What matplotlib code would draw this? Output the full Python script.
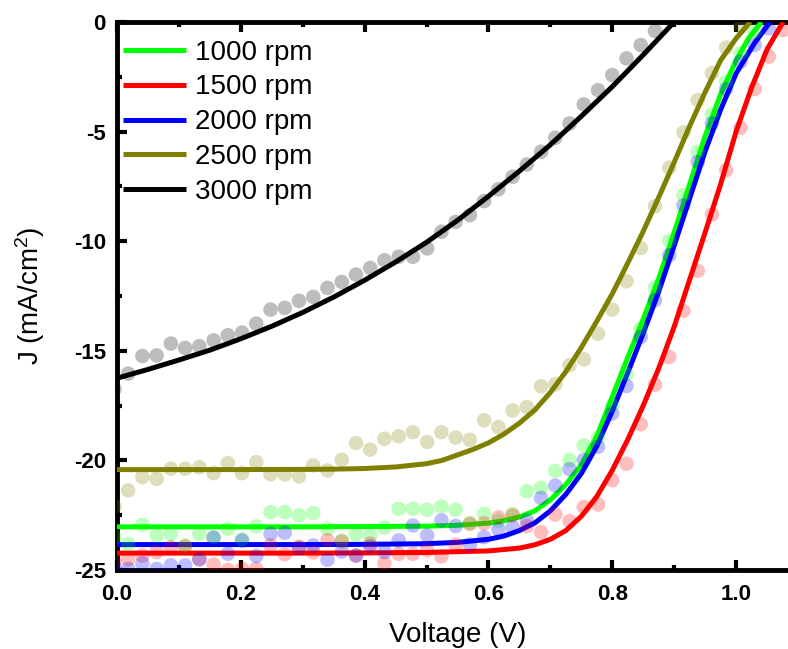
import matplotlib
matplotlib.use("Agg")
import matplotlib.pyplot as plt
import numpy as np
from matplotlib.ticker import MultipleLocator, FormatStrFormatter

plt.rcParams['font.family'] = ['Liberation Sans', 'DejaVu Sans']
plt.rcParams['mathtext.fontset'] = 'custom'
plt.rcParams['mathtext.rm'] = 'Liberation Sans'
plt.rcParams['mathtext.it'] = 'Liberation Sans:italic'
plt.rcParams['axes.unicode_minus'] = False

# ---------------- data ----------------
labels = ["1000 rpm", "1500 rpm", "2000 rpm", "2500 rpm", "3000 rpm"]
colors = ["#00ff00", "#ff0000", "#0000ff", "#808000", "#000000"]

# measured voltages (shared grid)
volt = [-0.004, 0.018, 0.041, 0.064, 0.087, 0.110, 0.133, 0.156, 0.179, 0.202,
        0.225, 0.248, 0.271, 0.294, 0.317, 0.340, 0.363, 0.386, 0.409, 0.432,
        0.455, 0.478, 0.501, 0.524, 0.547, 0.570, 0.593, 0.616, 0.639, 0.662,
        0.685, 0.708, 0.731, 0.754, 0.777, 0.800, 0.823, 0.846, 0.869, 0.892,
        0.915, 0.938, 0.961, 0.984, 1.007, 1.030, 1.053, 1.076]

# measured current densities (mA/cm2)
j_1000 = [-23.5, -23.81, -22.94, -23.42, -23.35, -23.88, -23.35, -23.50, -23.12, -23.6,
          -23.01, -22.36, -22.36, -22.51, -22.40, -23.12, -23.65, -23.38, -23.42, -23.07,
          -22.21, -22.21, -22.25, -22.10, -22.25, -22.85, -22.43, -22.75, -22.45, -21.41,
          -21.25, -20.48, -19.98, -19.32, -18.97, -17.49, -16.04, -13.99, -12.11, -9.98,
          -7.90, -5.92, -4.22, -2.72, -1.43, -0.44]
j_1500 = [-24.6, -24.51, -24.34, -24.18, -23.96, -23.93, -24.5, -24.75, -25.0, -24.95,
          -24.95, -23.88, -24.28, -23.94, -24.2, -23.64, -23.70, -24.34, -23.80, -24.69,
          -24.26, -24.26, -24.1, -24.38, -23.84, -22.90, -22.87, -22.60, -22.51, -23.0,
          -23.27, -22.47, -22.77, -22.13, -22.01, -20.90, -20.15, -18.35, -16.55, -15.28,
          -13.18, -11.35, -8.78, -6.76, -4.83, -3.06, -1.58, -0.37]
j_2000 = [-24.87, -24.95, -24.69, -24.95, -24.79, -24.79, -24.51, -23.53, -24.26, -23.66,
          -24.36, -23.35, -23.30, -23.99, -23.88, -24.53, -24.16, -24.34, -23.93, -24.18,
          -23.65, -22.97, -23.42, -22.74, -22.99, -23.84, -23.50, -23.14, -23.05, -22.74,
          -21.71, -21.15, -20.40, -19.98, -19.38, -17.86, -16.60, -14.37, -12.69, -10.64,
          -8.36, -6.38, -4.63, -3.06, -1.81, -1.05, -0.29]
j_2500 = [-22.1, -21.37, -20.76, -20.84, -20.38, -20.38, -20.31, -20.58, -20.12, -20.58,
          -20.08, -20.64, -20.64, -20.73, -20.23, -20.46, -19.97, -19.21, -19.51, -19.01,
          -18.90, -18.71, -19.16, -18.71, -18.96, -19.06, -18.17, -18.48, -17.72, -17.57,
          -16.62, -16.53, -15.66, -15.39, -14.22, -13.12, -11.83, -10.31, -8.40, -6.65,
          -5.04, -3.56, -2.34, -1.17, -0.21]
j_3000 = [-16.75, -16.04, -15.24, -15.21, -14.67, -14.87, -14.79, -14.52, -14.29, -14.17,
          -13.76, -13.12, -13.04, -12.72, -12.54, -12.13, -11.86, -11.52, -11.22, -10.87,
          -10.71, -10.71, -10.33, -9.57, -9.12, -8.81, -8.17, -7.63, -7.06, -6.50,
          -5.92, -5.28, -4.63, -3.76, -3.11, -2.42, -1.66, -1.05, -0.41]

# fitted curves
fit_v_1000 = [0, 0.1, 0.2, 0.3, 0.4, 0.5, 0.55, 0.6, 0.625, 0.65, 0.675, 0.7, 0.725, 0.75,
              0.775, 0.8, 0.825, 0.85, 0.875, 0.9, 0.925, 0.95, 0.975, 1.0, 1.02, 1.041]
fit_j_1000 = [-23.03, -23.03, -23.03, -23.03, -23.02, -23.0, -22.96, -22.86, -22.75, -22.58,
              -22.3, -21.8, -21.1, -20.2, -18.9, -17.1, -15.3, -13.55, -11.7, -9.6,
              -7.4, -5.2, -3.3, -1.75, -0.75, 0.0]
fit_v_1500 = [0, 0.1, 0.2, 0.3, 0.4, 0.5, 0.6, 0.65, 0.675, 0.7, 0.725, 0.75, 0.775, 0.8,
              0.825, 0.85, 0.875, 0.9, 0.925, 0.95, 0.975, 1.0, 1.025, 1.05, 1.076]
fit_j_1500 = [-24.23, -24.23, -24.23, -24.23, -24.22, -24.2, -24.13, -24.0, -23.85, -23.6,
              -23.2, -22.55, -21.65, -20.45, -19.05, -17.5, -15.8, -13.9, -11.75, -9.6,
              -7.4, -5.0, -3.0, -1.25, 0.0]
fit_v_2000 = [0, 0.1, 0.2, 0.3, 0.4, 0.5, 0.55, 0.6, 0.625, 0.65, 0.675, 0.7, 0.725, 0.75,
              0.775, 0.8, 0.825, 0.85, 0.875, 0.9, 0.925, 0.95, 0.975, 1.0, 1.03, 1.055]
fit_j_2000 = [-23.84, -23.84, -23.84, -23.84, -23.83, -23.8, -23.74, -23.6, -23.45, -23.2,
              -22.85, -22.3, -21.55, -20.6, -19.35, -17.75, -16.0, -14.2, -12.3, -10.2,
              -8.05, -5.9, -4.0, -2.35, -0.95, 0.0]
fit_v_2500 = [0, 0.1, 0.2, 0.3, 0.35, 0.4, 0.45, 0.5, 0.525, 0.55, 0.575, 0.6, 0.625, 0.65,
              0.675, 0.7, 0.725, 0.75, 0.775, 0.8, 0.825, 0.85, 0.875, 0.9, 0.925, 0.95,
              0.975, 1.0, 1.023]
fit_j_2500 = [-20.42, -20.42, -20.42, -20.41, -20.4, -20.37, -20.3, -20.15, -20.0, -19.75,
              -19.5, -19.2, -18.8, -18.3, -17.7, -16.9, -15.95, -14.85, -13.65, -12.4,
              -11.0, -9.55, -8.0, -6.4, -4.75, -3.2, -1.75, -0.75, 0.0]
fit_v_3000 = [0, 0.05, 0.1, 0.15, 0.2, 0.25, 0.3, 0.35, 0.4, 0.45, 0.5, 0.55, 0.6, 0.65,
              0.7, 0.75, 0.8, 0.85, 0.9]
fit_j_3000 = [-16.25, -15.85, -15.42, -14.97, -14.45, -13.88, -13.25, -12.55, -11.78, -10.95,
              -10.05, -9.05, -7.95, -6.8, -5.6, -4.3, -2.95, -1.5, 0.0]

x_ticks = [0.0, 0.2, 0.4, 0.6, 0.8, 1.0]
y_ticks = [0, -5, -10, -15, -20, -25]

# ---------------- plot ----------------
fig = plt.figure(figsize=(7.88, 6.49), dpi=100)
ax = fig.add_axes([117 / 788, 79 / 649, 681 / 788, 548 / 649])

meas = [j_1000, j_1500, j_2000, j_2500, j_3000]
fits = [(fit_v_1000, fit_j_1000), (fit_v_1500, fit_j_1500), (fit_v_2000, fit_j_2000),
        (fit_v_2500, fit_j_2500), (fit_v_3000, fit_j_3000)]

handles = []
for lab, col, jm, (fv, fj) in zip(labels, colors, meas, fits):
    h, = ax.plot(fv, fj, color=col, lw=3.6, label=lab, zorder=3, solid_capstyle='butt')
    handles.append(h)
    ax.scatter(volt[:len(jm)], jm, s=110, color=col, alpha=0.26, edgecolors='none',
               zorder=4, clip_on=True)

ax.set_xlim(0, 1.1)
ax.set_ylim(-25, 0)
ax.set_xticks(x_ticks)
ax.set_yticks(y_ticks)
ax.xaxis.set_minor_locator(MultipleLocator(0.1))
ax.yaxis.set_minor_locator(MultipleLocator(2.5))
ax.xaxis.set_major_formatter(FormatStrFormatter('%.1f'))
ax.yaxis.set_major_formatter(FormatStrFormatter('%d'))

for sp in ax.spines.values():
    sp.set_linewidth(3.5)

ax.tick_params(which='both', direction='in', top=True, right=True)
ax.tick_params(which='major', length=7, width=3, pad=8, labelsize=16)
ax.tick_params(axis='x', which='major', pad=10)
ax.tick_params(which='minor', length=3.5, width=3)
for t in ax.get_xticklabels() + ax.get_yticklabels():
    t.set_fontweight('bold')

ax.set_xlabel("Voltage (V)", fontsize=20, labelpad=12)
ax.set_ylabel("J (mA/cm$^2$)", fontsize=20, labelpad=19)

ax.legend(handles=handles, loc='upper left', bbox_to_anchor=(0.009, 0.968),
          frameon=False, fontsize=20, handlelength=2.27, handletextpad=0.3,
          labelspacing=0.32, borderpad=0, borderaxespad=0)

fig.savefig("out.png", dpi=100)
